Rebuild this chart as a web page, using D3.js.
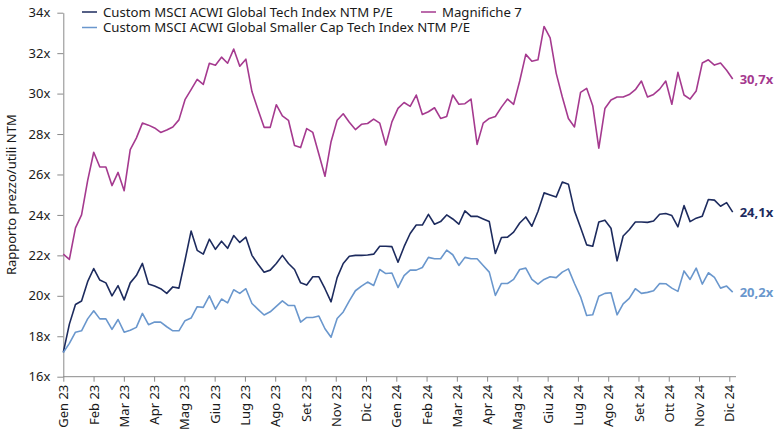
<!DOCTYPE html>
<html>
<head>
<meta charset="utf-8">
<script src="https://cdn.jsdelivr.net/npm/d3@7"></script>
<style>
  body { margin: 0; background: #fff; }
  svg text { font-family: "Noto Sans", "Open Sans", sans-serif; fill: #1a1a1a; }
</style>
</head>
<body>
<div id="chart"></div>
<script>
// tick labels on the category axis (Ott 23 is skipped in the original)
const tickLabels = ["Gen 23", "Feb 23", "Mar 23", "Apr 23", "Mag 23", "Giu 23", "Lug 23", "Ago 23",
                    "Set 23", "Nov 23", "Dic 23", "Gen 24", "Feb 24", "Mar 24", "Apr 24", "Mag 24",
                    "Giu 24", "Lug 24", "Ago 24", "Set 24", "Ott 24", "Nov 24", "Dic 24"];

const yTicks = [16, 18, 20, 22, 24, 26, 28, 30, 32, 34];

// Magnifiche 7 NTM P/E
const mag7 = [22.06, 21.8, 23.36, 24.0, 25.7, 27.1, 26.37, 26.37, 25.45, 26.1,
              25.2, 27.23, 27.8, 28.54, 28.44, 28.3, 28.08, 28.2, 28.35, 28.7,
              29.7, 30.2, 30.7, 30.45, 31.5, 31.4, 31.8, 31.5, 32.2, 31.35,
              31.7, 30.1, 29.2, 28.33, 28.33, 29.45, 28.9, 28.68, 27.43, 27.33,
              28.27, 28.08, 27.0, 25.91, 27.62, 28.68, 29.0, 28.58, 28.22, 28.48,
              28.52, 28.74, 28.54, 27.46, 28.6, 29.27, 29.56, 29.37, 29.93, 28.97,
              29.1, 29.3, 28.77, 28.87, 29.93, 29.47, 29.5, 29.73, 27.49, 28.54,
              28.77, 28.87, 29.33, 29.73, 29.47, 30.62, 31.94, 31.6, 31.67, 33.32,
              32.76, 31.0, 29.83, 28.77, 28.35, 30.06, 30.26, 29.4, 27.3, 29.26,
              29.68, 29.83, 29.83, 29.95, 30.19, 30.62, 29.83, 29.96, 30.22, 30.62,
              29.47, 31.05, 29.93, 29.73, 30.13, 31.51, 31.67, 31.41, 31.51, 31.15,
              30.72];

// Custom MSCI ACWI Global Tech Index NTM P/E
const globalTech = [17.2, 18.6, 19.57, 19.74, 20.7, 21.35, 20.78, 20.64, 20.0, 20.5,
                    19.8, 20.64, 21.0, 21.6, 20.58, 20.48, 20.35, 20.12, 20.44, 20.38,
                    21.76, 23.2, 22.25, 22.06, 22.8, 22.3, 22.7, 22.35, 22.98, 22.64,
                    22.9, 22.0, 21.56, 21.17, 21.27, 21.6, 22.0, 21.6, 21.3, 20.64,
                    20.53, 20.94, 20.94, 20.35, 19.7, 20.9, 21.6, 21.96, 22.0, 22.0,
                    22.02, 22.06, 22.45, 22.45, 22.43, 21.66, 22.43, 23.08, 23.5, 23.5,
                    24.03, 23.54, 23.67, 24.0, 23.8, 23.54, 24.2, 23.93, 23.93, 23.8,
                    23.67, 22.09, 22.88, 22.9, 23.15, 23.6, 23.9, 23.44, 24.17, 25.09,
                    24.99, 24.89, 25.63, 25.52, 24.2, 23.38, 22.52, 22.45, 23.65, 23.74,
                    23.34, 21.73, 22.96, 23.27, 23.65, 23.65, 23.63, 23.7, 24.03, 24.07,
                    23.97, 23.41, 24.46, 23.67, 23.84, 23.94, 24.76, 24.73, 24.43, 24.61,
                    24.14];

// Custom MSCI ACWI Global Smaller Cap Tech Index NTM P/E
const smallCapTech = [17.2, 17.65, 18.2, 18.27, 18.86, 19.26, 18.86, 18.86, 18.34, 18.83,
                      18.2, 18.3, 18.44, 19.13, 18.57, 18.7, 18.7, 18.47, 18.27, 18.27,
                      18.77, 18.9, 19.46, 19.43, 20.0, 19.34, 19.84, 19.65, 20.3, 20.12,
                      20.35, 19.62, 19.33, 19.05, 19.21, 19.48, 19.75, 19.52, 19.52, 18.7,
                      18.93, 18.93, 19.0, 18.37, 17.95, 18.88, 19.2, 19.75, 20.25, 20.48,
                      20.68, 20.51, 21.3, 21.1, 21.13, 20.41, 21.0, 21.27, 21.27, 21.4,
                      21.9, 21.83, 21.83, 22.26, 22.03, 21.5, 21.9, 21.83, 21.83, 21.5,
                      21.17, 20.02, 20.61, 20.61, 20.81, 21.3, 21.37, 20.81, 20.58, 20.81,
                      20.94, 20.9, 21.17, 21.33, 20.61, 19.95, 19.03, 19.06, 19.98, 20.12,
                      20.15, 19.06, 19.6, 19.87, 20.35, 20.12, 20.17, 20.25, 20.61, 20.6,
                      20.38, 20.22, 21.23, 20.81, 21.37, 20.58, 21.14, 20.91, 20.38, 20.48,
                      20.18];

// labels printed at the end of each line, as in the original
const endLabels = ["24,1x", "30,7x", "20,2x"];

const series = [
    { name: "Custom MSCI ACWI Global Tech Index NTM P/E", values: globalTech, color: "#1d2b5e" },
    { name: "Magnifiche 7", values: mag7, color: "#a53a8f" },
    { name: "Custom MSCI ACWI Global Smaller Cap Tech Index NTM P/E", values: smallCapTech, color: "#6a97cd" }
];

const width = 780, height = 440;
const plotLeft = 63.3, plotRight = 732.7, plotTop = 12.7, plotBottom = 376.7;

const svg = d3.select("#chart").append("svg")
    .attr("width", width)
    .attr("height", height);

const x = d3.scaleLinear()
    .domain([0, mag7.length - 1])
    .range([plotLeft, plotRight]);

// labels sit on their own evenly spaced positions
const xTick = d3.scalePoint()
    .domain(tickLabels)
    .range([plotLeft, 729.3]);

const y = d3.scaleLinear()
    .domain([16, 34])
    .range([plotBottom, plotTop]);

// y axis
const yAxis = svg.append("g")
    .attr("transform", `translate(${plotLeft},0)`)
    .call(d3.axisLeft(y).tickValues(yTicks).tickFormat(d => d + "x").tickSize(6).tickSizeOuter(0).tickPadding(7));
yAxis.select(".domain").attr("stroke", "#8a8a8a");
yAxis.selectAll(".tick line").attr("stroke", "#8a8a8a");
yAxis.selectAll("text").style("font-size", "13px").attr("fill", "#1a1a1a");

// x axis
const xAxis = svg.append("g")
    .attr("transform", `translate(0,${plotBottom})`)
    .call(d3.axisBottom(xTick).tickSize(5).tickSizeOuter(0));
xAxis.select(".domain").attr("d", `M${plotLeft},0H736`).attr("stroke", "#8a8a8a");
xAxis.selectAll(".tick line").attr("stroke", "#8a8a8a");
xAxis.selectAll("text")
    .style("font-size", "13px")
    .attr("fill", "#1a1a1a")
    .attr("text-anchor", "end")
    .attr("transform", "rotate(-90)")
    .attr("x", -8)
    .attr("y", 0)
    .attr("dy", "0.35em");

// axis title
svg.append("text")
    .attr("transform", `translate(16,${(plotTop + plotBottom) / 2}) rotate(-90)`)
    .attr("text-anchor", "middle")
    .style("font-size", "13px")
    .text("Rapporto prezzo/utili NTM");

// lines
const line = d3.line()
    .x((d, i) => x(i))
    .y(d => y(d));

series.forEach((s, i) => {
    svg.append("path")
        .datum(s.values)
        .attr("fill", "none")
        .attr("stroke", s.color)
        .attr("stroke-width", 1.6)
        .attr("stroke-linejoin", "round")
        .attr("d", line);

    const last = s.values[s.values.length - 1];
    svg.append("text")
        .attr("x", plotRight + 7)
        .attr("y", y(last))
        .attr("dy", "0.35em")
        .style("font-size", "13px")
        .style("font-weight", "bold")
        .style("fill", s.color)
        .text(endLabels[i]);
});

// legend
const legendPos = [
    { x: 82, y: 12 },
    { x: 421, y: 12 },
    { x: 82, y: 27.5 }
];
series.forEach((s, i) => {
    const g = svg.append("g").attr("transform", `translate(${legendPos[i].x},${legendPos[i].y})`);
    g.append("line")
        .attr("x1", 0).attr("x2", 15)
        .attr("stroke", s.color)
        .attr("stroke-width", 1.5);
    g.append("text")
        .attr("x", 21)
        .attr("dy", "0.35em")
        .style("font-size", "13.2px")
        .text(s.name);
});
</script>
</body>
</html>
